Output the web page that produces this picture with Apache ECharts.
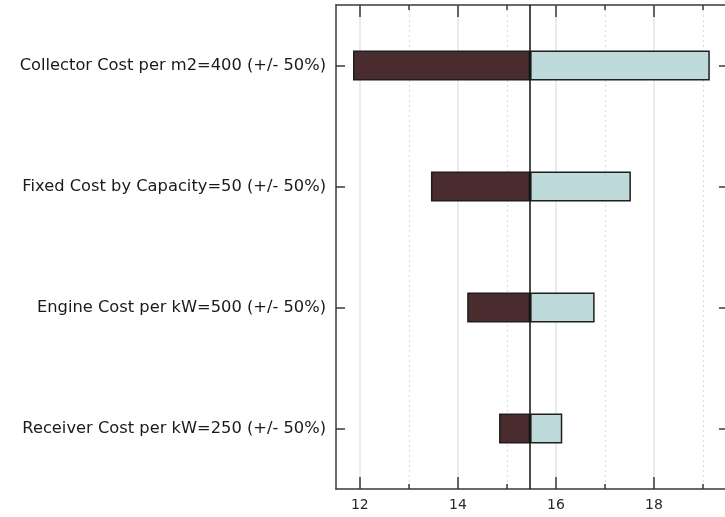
<!DOCTYPE html>
<html>
<head>
<meta charset="utf-8">
<script src="https://cdn.jsdelivr.net/npm/echarts@6/dist/echarts.min.js"></script>
<style>html,body{margin:0;padding:0;background:#fff}#c{width:725px;height:517px}</style>
</head>
<body>
<div id="c"></div>
<script>
const categories = [
  "Collector Cost per m2=400 (+/- 50%)",
  "Fixed Cost by Capacity=50 (+/- 50%)",
  "Engine Cost per kW=500 (+/- 50%)",
  "Receiver Cost per kW=250 (+/- 50%)"
];
const baseValue = 15.473;
const lowValues = [11.86, 13.45, 14.19, 14.84];
const highValues = [19.14, 17.53, 16.79, 16.13];
const majorTicks = [12, 14, 16, 18];
const minorTicks = [13, 15, 17, 19];
const axisMin = 11.513, axisMax = 19.45;

const FONT = "DejaVu Sans";
const chart = echarts.init(document.getElementById('c'));

function xAx(pos, major, labels) {
  return {
    type: 'value', position: pos, min: axisMin, max: axisMax,
    axisLine: {show: major, lineStyle: {color: '#3a3a3a', width: 1.5}},
    axisTick: {show: true, inside: true, length: major ? 12 : 5,
      customValues: major ? majorTicks : minorTicks,
      lineStyle: {color: '#3a3a3a', width: 1.5}},
    axisLabel: {show: labels, customValues: majorTicks, margin: 9,
      fontFamily: FONT, fontSize: 14, color: '#2a2a2a'},
    splitLine: {show: pos === 'bottom',
      lineStyle: major ? {color: '#e4e4e4', width: 1.5, type: 'solid'} : {color: '#dcdcdc', width: 1.2, type: [2, 3]}},
    minorTick: {show: false}
  };
}

const option = {
  animation: false,
  grid: {left: 336, top: 5, bottom: 28, right: -2.5, containLabel: false},
  xAxis: [xAx('bottom', true, true), xAx('bottom', false, false), xAx('top', true, false), xAx('top', false, false)],
  yAxis: [
    {type: 'category', data: categories, inverse: true, position: 'left',
     axisLine: {show: true, lineStyle: {color: '#3a3a3a', width: 1.5}},
     axisTick: {show: true, inside: true, alignWithLabel: true, length: 9, lineStyle: {color: '#3a3a3a', width: 1.5}},
     axisLabel: {fontFamily: FONT, fontSize: 16.3, color: '#1a1a1a', margin: 10},
     splitLine: {show: false}},
    {type: 'category', data: categories, inverse: true, position: 'right',
     axisLine: {show: false},
     axisTick: {show: true, inside: true, alignWithLabel: true, length: 6, lineStyle: {color: '#3a3a3a', width: 1.5}},
     axisLabel: {show: false}, splitLine: {show: false}}
  ],
  series: [
    {type: 'bar', stack: 't', barWidth: 30, silent: true,
     data: lowValues, itemStyle: {color: 'transparent', borderWidth: 0}},
    {type: 'bar', stack: 't', barWidth: 30, silent: true,
     data: lowValues.map(v => +(baseValue - v).toFixed(4)),
     itemStyle: {color: '#4a2c2e', borderColor: '#1e1e1e', borderWidth: 1.5}},
    {type: 'bar', stack: 't', barWidth: 30, silent: true,
     data: highValues.map(v => +(v - baseValue).toFixed(4)),
     itemStyle: {color: '#bfdada', borderColor: '#1e1e1e', borderWidth: 1.5},
     markLine: {silent: true, symbol: 'none', label: {show: false},
       lineStyle: {color: '#111', width: 1.5, type: 'solid'},
       data: [{xAxis: baseValue}]}}
  ]
};
chart.setOption(option);
</script>
</body>
</html>
